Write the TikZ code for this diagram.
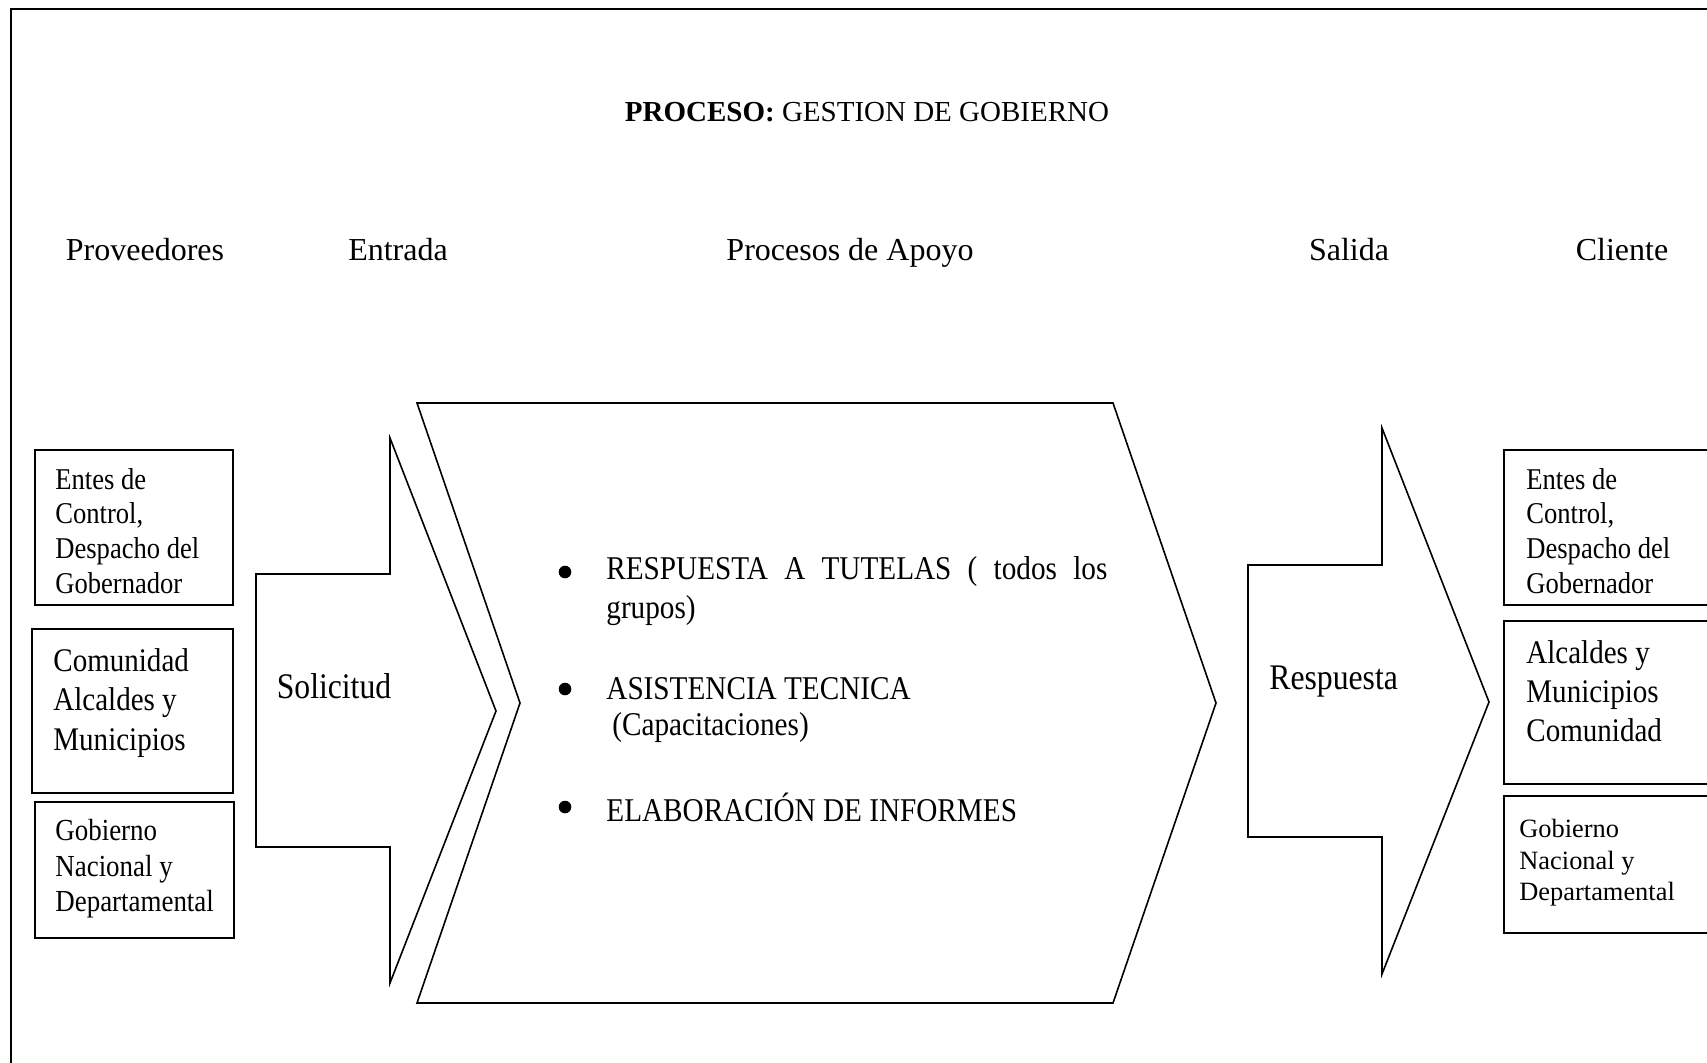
\documentclass[tikz,border=0pt]{standalone}
\usepackage{fontspec}
\setmainfont{Liberation Serif}
\newfontfamily\cond[FakeStretch=0.88]{Liberation Serif}
\begin{document}
\begin{tikzpicture}[x=0.5pt,y=-0.5pt,
  shp/.style={draw, line width=0.8pt, line join=miter},
  box/.style={draw, line width=0.8pt, inner sep=0pt},
  txt/.style={inner sep=0pt, anchor=west, align=left},
  hdr/.style={inner sep=0pt, anchor=base, font=\fontsize{16}{19}\selectfont},
  blt/.style={inner sep=0pt, anchor=west, font=\cond\fontsize{16.6}{19.5}\selectfont},
  dot/.style={fill=black, circle, inner sep=0pt, minimum size=6.3pt}]
\useasboundingbox (0,0) rectangle (1707,1062);
\clip (0,0) rectangle (1707,1062);
% outer frame
\draw[line width=1pt] (11,9) rectangle (1730,1090);
% title and headers
\node[inner sep=0pt, font=\fontsize{14.5}{17}\selectfont] (title) at (867,112) {\textbf{PROCESO:} GESTION DE GOBIERNO};
\node[hdr] (hprov) at (145,260) {Proveedores};
\node[hdr] (hent) at (398,260) {Entrada};
\node[hdr] (hproc) at (850,260) {Procesos de Apoyo};
\node[hdr] (hsal) at (1349,260) {Salida};
\node[hdr] (hcli) at (1622,260) {Cliente};
% left boxes
\draw[box] (35,450) rectangle (233,605);
\draw[box] (32,629) rectangle (233,793);
\draw[box] (35,802) rectangle (234,938);
\node[txt, font=\cond\fontsize{15.1}{17.4}\selectfont] (lt1) at (55,531) {Entes de\\Control,\\Despacho del\\Gobernador};
\node[txt, font=\cond\fontsize{16.5}{19.6}\selectfont] (lt2) at (53,703) {Comunidad\\Alcaldes y\\Municipios};
\node[txt, font=\cond\fontsize{15.3}{17.7}\selectfont] (lt3) at (55,869) {Gobierno\\Nacional y\\Departamental};
% Solicitud arrow
\draw[shp] (256,574) -- (390,574) -- (390,438) -- (496,711) -- (390,983) -- (390,847) -- (256,847) -- cycle;
\node[inner sep=0pt, font=\cond\fontsize{18}{21}\selectfont] (sol) at (334,686) {Solicitud};
% central chevron
\draw[shp] (417,403) -- (1113,403) -- (1216,703) -- (1113,1003) -- (417,1003) -- (520,703) -- cycle;
\node[dot] (d1) at (565,572) {};
\node[dot] (d2) at (565,689) {};
\node[dot] (d3) at (565,807) {};
\node[blt] (b1a) at (606,572) {\makebox[250.5pt][s]{RESPUESTA A TUTELAS ( todos los}};
\node[blt] (b1b) at (606,611) {grupos)};
\node[blt] (b2a) at (606,689) {ASISTENCIA TECNICA};
\node[blt] (b2b) at (612,727) {(Capacitaciones)};
\node[blt] (b3) at (606,807) {ELABORACIÓN DE INFORMES};
% Respuesta arrow
\draw[shp] (1248,565) -- (1382,565) -- (1382,428) -- (1489,702) -- (1382,974) -- (1382,837) -- (1248,837) -- cycle;
\node[inner sep=0pt, anchor=west, font=\cond\fontsize{18}{21}\selectfont] (resp) at (1269,682) {Respuesta};
% right boxes
\draw[box] (1504,450) rectangle (1740,605);
\draw[box] (1504,621) rectangle (1740,784);
\draw[box] (1504,796) rectangle (1740,933);
\node[txt, font=\cond\fontsize{15.1}{17.4}\selectfont] (rt1) at (1526,531) {Entes de\\Control,\\Despacho del\\Gobernador};
\node[txt, font=\cond\fontsize{16.5}{19.6}\selectfont] (rt2) at (1526,691) {Alcaldes y\\Municipios\\Comunidad};
\node[txt, font=\fontsize{13.2}{15.8}\selectfont] (rt3) at (1519,863) {Gobierno\\Nacional y\\Departamental};
\end{tikzpicture}
\end{document}
